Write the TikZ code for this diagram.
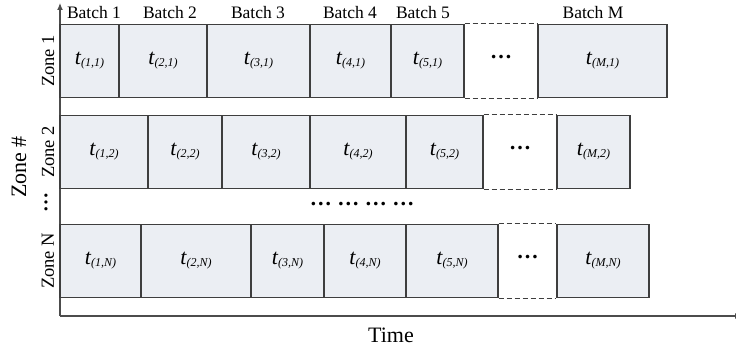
\documentclass[tikz,border=0pt]{standalone}
\usepackage{fontspec}
\setmainfont{Liberation Serif}
\usepackage{tikz}
\usetikzlibrary{arrows.meta}
\usetikzlibrary{calc}
\usepackage{xcolor}
\definecolor{CellFill}{RGB}{235,238,243}
\definecolor{CellLine}{RGB}{62,62,62}
\tikzset{
	>={Latex[length=2.6mm]},
	axis/.style={black!70, line width=1.2pt, -{Latex[length=7pt,width=6pt]}},
	cell/.style={draw=CellLine, fill=CellFill, line width=1.1pt, inner sep=0pt, minimum height=73.5pt},
	gapline/.style={CellLine, line width=1.1pt, dash pattern=on 5pt off 3pt},
	batchlab/.style={font=\fontsize{17.5}{17.5}\selectfont},
	zonelab/.style={font=\fontsize{18.5}{18.5}\selectfont, rotate=90},
	biglab/.style={font=\fontsize{22}{22}\selectfont},
	dotlab/.style={font=\fontsize{22}{22}\selectfont\bfseries}
}
% cell label t_(k,z)
\newcommand{\tlab}[2]{{\fontsize{22}{22}\selectfont\itshape t}\raisebox{-2pt}{\fontsize{12}{12}\selectfont\itshape (#1,#2)}}

\begin{document}
\begin{tikzpicture}[x=1pt, y=-1pt]
	\useasboundingbox (0,0) rectangle (736,352);
	
	% Axes
	\coordinate (O) at (60,316);
	\coordinate (ytop) at (60,3);
	\coordinate (xend) at (742,316);
	\draw[axis] (O) -- (ytop);
	\draw[axis] (O) -- (xend);
	
	% Zone 1
	\foreach \l/\r/\k in {60/119/1, 119/207/2, 207/310/3, 310/391/4, 391/464/5, 538/667/M}
	\node[cell, minimum width={\r-\l}] (c\k1) at ({(\l+\r)/2},61) {\tlab{\k}{1}};
	\draw[gapline] (c51.north east) -- (cM1.north west);
	\draw[gapline] (c51.south east) -- (cM1.south west);
	\node[dotlab] (d1) at ($(c51.east)!0.5!(cM1.west)+(0,-4)$) {\ldots};
	
	% Zone 2
	\foreach \l/\r/\k in {60/148/1, 148/222/2, 222/310/3, 310/406/4, 406/483/5, 557/630/M}
	\node[cell, minimum width={\r-\l}] (c\k2) at ({(\l+\r)/2},152) {\tlab{\k}{2}};
	\draw[gapline] (c52.north east) -- (cM2.north west);
	\draw[gapline] (c52.south east) -- (cM2.south west);
	\node[dotlab] (d2) at ($(c52.east)!0.5!(cM2.west)+(0,-4)$) {\ldots};
	
	% Zone N
	\foreach \l/\r/\k in {60/141/1, 141/251/2, 251/324/3, 324/406/4, 406/498/5, 557/649/M}
	\node[cell, minimum width={\r-\l}] (c\k N) at ({(\l+\r)/2},261) {\tlab{\k}{N}};
	\draw[gapline] (c5N.north east) -- (cMN.north west);
	\draw[gapline] (c5N.south east) -- (cMN.south west);
	\node[dotlab] (dN) at ($(c5N.east)!0.5!(cMN.west)+(0,-4)$) {\ldots};
	
	% Rows in between
	\node[dotlab] (mid) at (362,204) {\ldots\ \ldots\ \ldots\ \ldots};
	
	% Batch labels
	\node[batchlab] (b1) at (94,13) {Batch 1};
	\node[batchlab] (b2) at (170,13) {Batch 2};
	\node[batchlab] (b3) at (258,13) {Batch 3};
	\node[batchlab] (b4) at (350,13) {Batch 4};
	\node[batchlab] (b5) at (423,13) {Batch 5};
	\node[batchlab] (bM) at (593,13) {Batch M};
	
	% Zone labels
	\node[zonelab] (z1) at (48,61) {Zone 1};
	\node[zonelab] (z2) at (48,152) {Zone 2};
	\node[zonelab] (zd) at (46,203) {\fontsize{20}{20}\selectfont\bfseries\ldots};
	\node[zonelab] (zN) at (48,261) {Zone N};
	
	% Axis titles
	\node[biglab, rotate=90] (ztitle) at (19,167) {Zone \#};
	\node[biglab] (ttitle) at (391,335) {Time};
	
\end{tikzpicture}
\end{document}
